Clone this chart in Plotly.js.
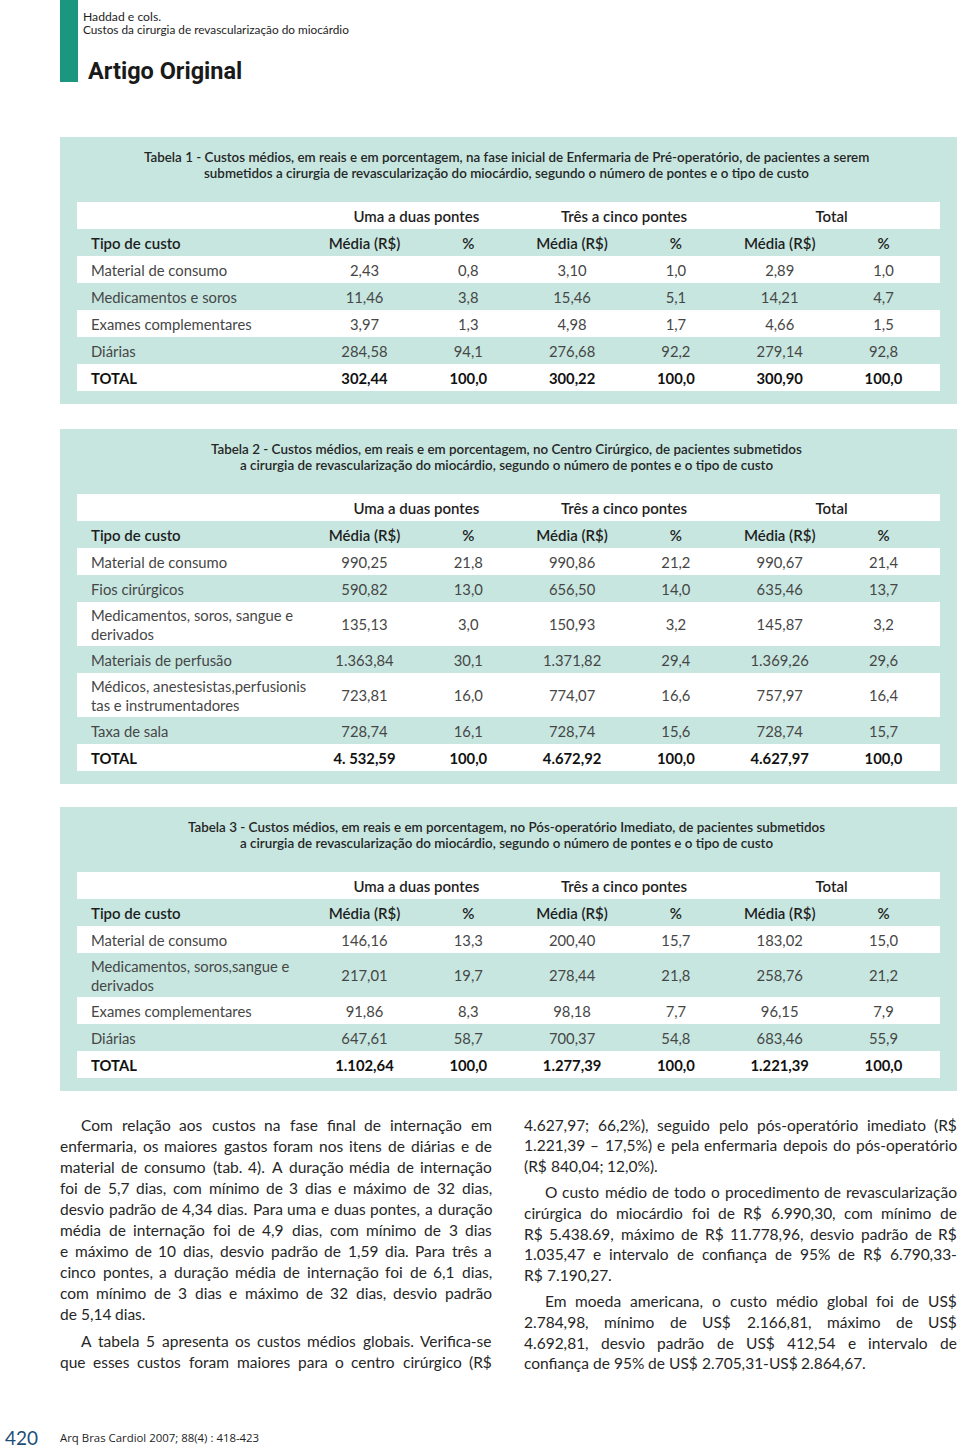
<!DOCTYPE html>
<html>
<head>
<meta charset="utf-8">
<script src="https://cdn.plot.ly/plotly-3.0.1.min.js"></script>
<style>
html,body{margin:0;padding:0;background:#fff;}
#chart{width:960px;height:1451px;}
</style>
</head>
<body>
<div id="chart"></div>
<script>
// ================= DATA =================
const headerAuthors = 'Haddad e cols.';
const headerRunning = 'Custos da cirurgia de revascularização do miocárdio';
const headerSection = 'Artigo Original';
const footerPage = '420';
const footerCitation = 'Arq Bras Cardiol 2007; 88(4) : 418-423';

const groupHeaders = ['Uma a duas pontes', 'Três a cinco pontes', 'Total'];
const colHeaders = ['Média (R$)', '%', 'Média (R$)', '%', 'Média (R$)', '%'];
const firstColHeader = 'Tipo de custo';

// Tabela 1
const t1Title = [
  'Tabela 1 - Custos médios, em reais e em porcentagem, na fase inicial de Enfermaria de Pré-operatório, de pacientes a serem',
  'submetidos a cirurgia de revascularização do miocárdio, segundo o número de pontes e o tipo de custo'
];
const t1Tipo    = ['Material de consumo', 'Medicamentos e soros', 'Exames complementares', 'Diárias', 'TOTAL'];
const t1Media12 = ['2,43', '11,46', '3,97', '284,58', '302,44'];
const t1Pct12   = ['0,8', '3,8', '1,3', '94,1', '100,0'];
const t1Media35 = ['3,10', '15,46', '4,98', '276,68', '300,22'];
const t1Pct35   = ['1,0', '5,1', '1,7', '92,2', '100,0'];
const t1MediaT  = ['2,89', '14,21', '4,66', '279,14', '300,90'];
const t1PctT    = ['1,0', '4,7', '1,5', '92,8', '100,0'];

// Tabela 2
const t2Title = [
  'Tabela 2 - Custos médios, em reais e em porcentagem, no Centro Cirúrgico, de pacientes submetidos',
  'a cirurgia de revascularização do miocárdio, segundo o número de pontes e o tipo de custo'
];
const t2Tipo    = ['Material de consumo', 'Fios cirúrgicos', 'Medicamentos, soros, sangue e<br>derivados',
                   'Materiais de perfusão', 'Médicos, anestesistas,perfusionis<br>tas e instrumentadores', 'Taxa de sala', 'TOTAL'];
const t2Media12 = ['990,25', '590,82', '135,13', '1.363,84', '723,81', '728,74', '4. 532,59'];
const t2Pct12   = ['21,8', '13,0', '3,0', '30,1', '16,0', '16,1', '100,0'];
const t2Media35 = ['990,86', '656,50', '150,93', '1.371,82', '774,07', '728,74', '4.672,92'];
const t2Pct35   = ['21,2', '14,0', '3,2', '29,4', '16,6', '15,6', '100,0'];
const t2MediaT  = ['990,67', '635,46', '145,87', '1.369,26', '757,97', '728,74', '4.627,97'];
const t2PctT    = ['21,4', '13,7', '3,2', '29,6', '16,4', '15,7', '100,0'];

// Tabela 3
const t3Title = [
  'Tabela 3 - Custos médios, em reais e em porcentagem, no Pós-operatório Imediato, de pacientes submetidos',
  'a cirurgia de revascularização do miocárdio, segundo o número de pontes e o tipo de custo'
];
const t3Tipo    = ['Material de consumo', 'Medicamentos, soros,sangue e<br>derivados', 'Exames complementares', 'Diárias', 'TOTAL'];
const t3Media12 = ['146,16', '217,01', '91,86', '647,61', '1.102,64'];
const t3Pct12   = ['13,3', '19,7', '8,3', '58,7', '100,0'];
const t3Media35 = ['200,40', '278,44', '98,18', '700,37', '1.277,39'];
const t3Pct35   = ['15,7', '21,8', '7,7', '54,8', '100,0'];
const t3MediaT  = ['183,02', '258,76', '96,15', '683,46', '1.221,39'];
const t3PctT    = ['15,0', '21,2', '7,9', '55,9', '100,0'];

// Body text (column lines as printed)
const leftParagraph1 = [
  'Com relação aos custos na fase final de internação em',
  'enfermaria, os maiores gastos foram nos itens de diárias e de',
  'material de consumo (tab. 4). A duração média de internação',
  'foi de 5,7 dias, com mínimo de 3 dias e máximo de 32 dias,',
  'desvio padrão de 4,34 dias. Para uma e duas pontes, a duração',
  'média de internação foi de 4,9 dias, com mínimo de 3 dias',
  'e máximo de 10 dias, desvio padrão de 1,59 dia. Para três a',
  'cinco pontes, a duração média de internação foi de 6,1 dias,',
  'com mínimo de 3 dias e máximo de 32 dias, desvio padrão',
  'de 5,14 dias.'
];
const leftParagraph2 = [
  'A tabela 5 apresenta os custos médios globais. Verifica-se',
  'que esses custos foram maiores para o centro cirúrgico (R$'
];
const rightParagraph1 = [
  '4.627,97; 66,2%), seguido pelo pós-operatório imediato (R$',
  '1.221,39 – 17,5%) e pela enfermaria depois do pós-operatório',
  '(R$ 840,04; 12,0%).'
];
const rightParagraph2 = [
  'O custo médio de todo o procedimento de revascularização',
  'cirúrgica do miocárdio foi de R$ 6.990,30, com mínimo de',
  'R$ 5.438.69, máximo de R$ 11.778,96, desvio padrão de R$',
  '1.035,47 e intervalo de confiança de 95% de R$ 6.790,33-',
  'R$ 7.190,27.'
];
const rightParagraph3 = [
  'Em moeda americana, o custo médio global foi de US$',
  '2.784,98, mínimo de US$ 2.166,81, máximo de US$',
  '4.692,81, desvio padrão de US$ 412,54 e intervalo de',
  'confiança de 95% de US$ 2.705,31-US$ 2.864,67.'
];

// ================= LAYOUT / STYLE =================
const W = 960, H = 1451;
const fx = px => px / W;
const fy = py => 1 - py / H;

const FONT = 'Lato, "Open Sans", sans-serif';
const TEAL_PANEL = '#c7e6e0';
const TEAL_BAR = '#1a977e';
const TXT_BODY = '#464646';
const TXT_HEAD = '#1e1e1e';

const TABLE_TOPS = [202, 494, 872];
const ROW_H = 27, ROW_H2 = 44;
const TEXT_DY = 2.5;   // optical vertical offset of cell text (px)
const PANEL_X0 = 60, PANEL_X1 = 957, ROW_X0 = 77, ROW_X1 = 940;
const COL1_PX = 364.5, COL_STEP = 103.8, LABEL_PX = 91;
const toX = px => 1 + (px - COL1_PX) / COL_STEP;
const CELL_SIZE = 14.8;
const HEAD_SIZE = 15;

const tables = [
  {title: t1Title, tipo: t1Tipo, cols: [t1Media12, t1Pct12, t1Media35, t1Pct35, t1MediaT, t1PctT]},
  {title: t2Title, tipo: t2Tipo, cols: [t2Media12, t2Pct12, t2Media35, t2Pct35, t2MediaT, t2PctT]},
  {title: t3Title, tipo: t3Tipo, cols: [t3Media12, t3Pct12, t3Media35, t3Pct35, t3MediaT, t3PctT]}
];

const traces = [];
const shapes = [];
const annotations = [];
const layout = {
  width: W, height: H,
  margin: {l: 0, r: 0, t: 0, b: 0},
  paper_bgcolor: '#ffffff',
  plot_bgcolor: 'rgba(0,0,0,0)',
  showlegend: false,
  hovermode: false,
  font: {family: FONT, color: TXT_BODY}
};

function textTrace(xa, ya, x, y, text, pos, font) {
  traces.push({
    type: 'scatter', mode: 'text', xaxis: xa, yaxis: ya,
    x: x, y: y, text: text, textposition: pos,
    textfont: Object.assign({family: FONT, size: CELL_SIZE}, font),
    hoverinfo: 'skip', cliponaxis: false
  });
}

tables.forEach((t, k) => {
  const n = k === 0 ? '' : String(k + 1);
  const xa = 'x' + n, ya = 'y' + n;
  const top = TABLE_TOPS[k];
  const heights = [ROW_H, ROW_H].concat(t.tipo.map(s => s.indexOf('<br>') >= 0 ? ROW_H2 : ROW_H));
  const bounds = [];
  let acc = 0;
  heights.forEach(h => { bounds.push([acc, acc + h]); acc += h; });
  const total = acc;
  const centers = bounds.map(b => (b[0] + b[1]) / 2 + TEXT_DY);

  layout['xaxis' + n] = {domain: [fx(ROW_X0), fx(ROW_X1)], range: [toX(ROW_X0), toX(ROW_X1)],
                         visible: false, fixedrange: true, anchor: ya};
  layout['yaxis' + n] = {domain: [fy(top + total), fy(top)], range: [total, 0],
                         visible: false, fixedrange: true, anchor: xa};

  // teal panel
  shapes.push({type: 'rect', xref: 'paper', yref: 'paper', layer: 'below',
    x0: fx(PANEL_X0), x1: fx(PANEL_X1), y0: fy(top + total + 13), y1: fy(top - 65),
    fillcolor: TEAL_PANEL, line: {width: 0}});
  // white (zebra) rows
  bounds.forEach((b, i) => {
    if (i % 2 === 0) shapes.push({type: 'rect', xref: xa + ' domain', yref: ya, layer: 'below',
      x0: 0, x1: 1, y0: b[0], y1: b[1], fillcolor: '#ffffff', line: {width: 0}});
  });

  // title
  t.title.forEach((line, j) => annotations.push({
    xref: 'paper', yref: 'paper', x: fx(506), y: fy(top - 45 + j * 16),
    text: line, showarrow: false, xanchor: 'center', yanchor: 'middle',
    font: {family: FONT, size: 13.4, color: '#262626', weight: 600}
  }));

  const headFont = {color: TXT_HEAD, weight: 600, size: HEAD_SIZE};
  // group header row
  textTrace(xa, ya, [1.5, 3.5, 5.5], [centers[0], centers[0], centers[0]], groupHeaders, 'middle center', headFont);
  // column header row
  textTrace(xa, ya, [toX(LABEL_PX)], [centers[1]], [firstColHeader], 'middle right', headFont);
  textTrace(xa, ya, colHeaders.map((_, c) => c + 1), colHeaders.map(() => centers[1]), colHeaders, 'middle center', headFont);

  // body rows
  const lx = [], ly = [], lt = [], vx = [], vy = [], vt = [];
  const tx = [], tyy = [], ttx = [], tvx = [], tvy = [], tvt = [];
  t.tipo.forEach((label, r) => {
    const yc = centers[r + 2];
    const isTotal = label === 'TOTAL';
    (isTotal ? tx : lx).push(toX(LABEL_PX));
    (isTotal ? tyy : ly).push(yc);
    (isTotal ? ttx : lt).push(label);
    t.cols.forEach((col, c) => {
      (isTotal ? tvx : vx).push(c + 1);
      (isTotal ? tvy : vy).push(yc);
      (isTotal ? tvt : vt).push(col[r]);
    });
  });
  textTrace(xa, ya, lx, ly, lt, 'middle right', {color: TXT_BODY});
  textTrace(xa, ya, vx, vy, vt, 'middle center', {color: TXT_BODY});
  textTrace(xa, ya, tx, tyy, ttx, 'middle right', {color: '#111', weight: 700});
  textTrace(xa, ya, tvx, tvy, tvt, 'middle center', {color: '#111', weight: 700});
});

// ---------- page header ----------
shapes.push({type: 'rect', xref: 'paper', yref: 'paper', layer: 'below',
  x0: fx(60), x1: fx(78), y0: fy(82), y1: fy(0), fillcolor: TEAL_BAR, line: {width: 0}});
annotations.push({xref: 'paper', yref: 'paper', x: fx(82), y: fy(16), text: headerAuthors,
  showarrow: false, xanchor: 'left', yanchor: 'middle', borderpad: 0,
  font: {family: FONT, size: 12.2, color: '#1e1e1e'}});
annotations.push({xref: 'paper', yref: 'paper', x: fx(82), y: fy(30), text: headerRunning,
  showarrow: false, xanchor: 'left', yanchor: 'middle', borderpad: 0,
  font: {family: FONT, size: 11.8, color: '#1e1e1e'}});
annotations.push({xref: 'paper', yref: 'paper', x: fx(87), y: fy(71), text: headerSection,
  showarrow: false, xanchor: 'left', yanchor: 'middle', borderpad: 0,
  font: {family: 'Roboto, "Liberation Sans", sans-serif', size: 23.5, color: '#1a1a1a', weight: 700}});

// ---------- footer ----------
annotations.push({xref: 'paper', yref: 'paper', x: fx(4), y: fy(1437), text: footerPage,
  showarrow: false, xanchor: 'left', yanchor: 'middle', borderpad: 0,
  font: {family: FONT, size: 19, color: '#1d4e7a'}});
annotations.push({xref: 'paper', yref: 'paper', x: fx(59), y: fy(1437), text: footerCitation,
  showarrow: false, xanchor: 'left', yanchor: 'middle', borderpad: 0,
  font: {family: '"Open Sans", sans-serif', size: 11.4, color: '#1e1e1e'}});

// ---------- justified body text ----------
const BODY_SIZE = 15.5;
const PARA_GAP = 5.5, INDENT = 21, BODY_TOP = 1124.5;
const ctx = document.createElement('canvas').getContext('2d');
ctx.font = BODY_SIZE + 'px ' + FONT;
const measure = s => ctx.measureText(s).width;

function layoutColumn(paras, x0, x1, lineH) {
  let y = BODY_TOP;
  paras.forEach(p => {
    p.lines.forEach((line, li) => {
      const indent = (li === 0 && p.indent) ? INDENT : 0;
      const isLast = li === p.lines.length - 1 && !p.continues;
      const words = line.split(' ');
      const widths = words.map(measure);
      const sum = widths.reduce((a, b) => a + b, 0);
      const avail = x1 - x0 - indent;
      const gap = (isLast || words.length < 2) ? measure(' ') : (avail - sum) / (words.length - 1);
      let x = x0 + indent;
      words.forEach((w, wi) => {
        annotations.push({xref: 'paper', yref: 'paper', x: fx(x), y: fy(y), text: w,
          showarrow: false, xanchor: 'left', yanchor: 'middle', borderpad: 0, borderwidth: 0,
          font: {family: FONT, size: BODY_SIZE, color: '#262626'}});
        x += widths[wi] + gap;
      });
      y += lineH;
    });
    y += PARA_GAP;
  });
}
layoutColumn([
  {lines: leftParagraph1, indent: true, continues: false},
  {lines: leftParagraph2, indent: true, continues: true}
], 60, 492, 21.1);
layoutColumn([
  {lines: rightParagraph1, indent: false, continues: false},
  {lines: rightParagraph2, indent: true, continues: false},
  {lines: rightParagraph3, indent: true, continues: false}
], 524, 957, 20.7);

layout.shapes = shapes;
layout.annotations = annotations;

Plotly.newPlot('chart', traces, layout, {staticPlot: true, displayModeBar: false});
</script>
</body>
</html>
